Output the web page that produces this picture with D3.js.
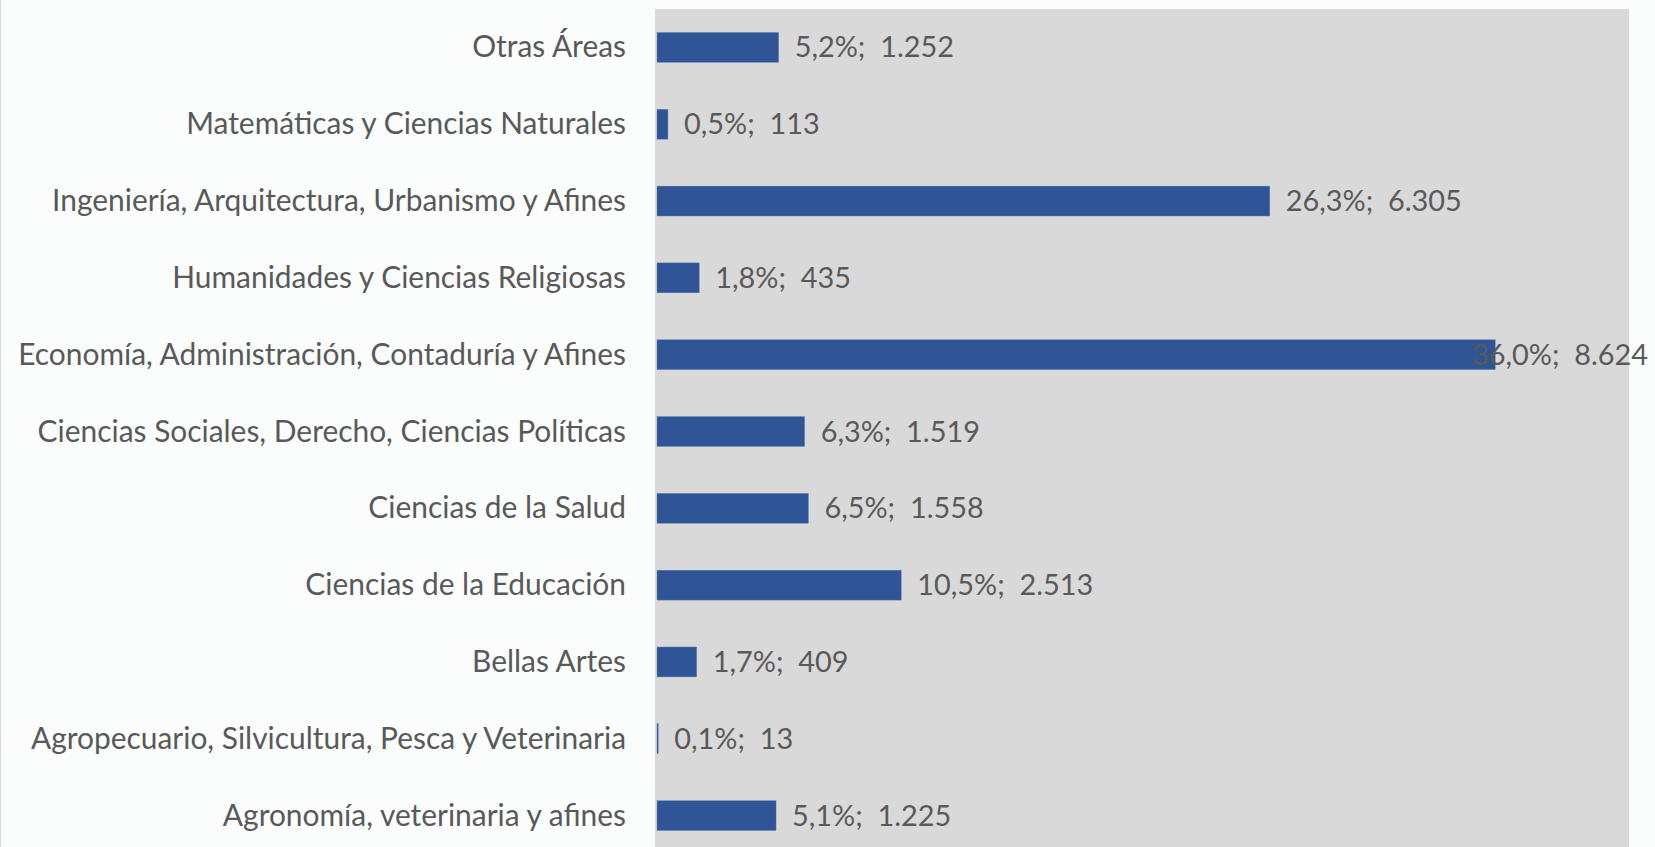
<!DOCTYPE html>
<html lang="es">
<head>
  <meta charset="UTF-8">
  <title>Áreas de conocimiento</title>
  <script src="https://d3js.org/d3.v7.min.js"></script>
  <style>
    html, body { margin: 0; padding: 0; background: #fbfdfd; overflow: hidden; }
    svg { display: block; }
    text { font-family: Lato, "Open Sans", sans-serif; fill: #595959; white-space: pre; }
  </style>
</head>
<body>
<div id="chart"></div>
<script>
  // Categories top to bottom
  const categories = [
    "Otras Áreas",
    "Matemáticas y Ciencias Naturales",
    "Ingeniería, Arquitectura, Urbanismo y Afines",
    "Humanidades y Ciencias Religiosas",
    "Economía, Administración, Contaduría y Afines",
    "Ciencias Sociales, Derecho, Ciencias Políticas",
    "Ciencias de la Salud",
    "Ciencias de la Educación",
    "Bellas Artes",
    "Agropecuario, Silvicultura, Pesca y Veterinaria",
    "Agronomía, veterinaria y afines"
  ];
  const counts = [1252, 113, 6305, 435, 8624, 1519, 1558, 2513, 409, 13, 1225];
  const percents = ["5,2%", "0,5%", "26,3%", "1,8%", "36,0%", "6,3%", "6,5%", "10,5%", "1,7%", "0,1%", "5,1%"];

  const width = 1655, height = 847;
  const plot = { left: 655, right: 1629, top: 9, bottom: 854 };

  const svg = d3.select("#chart").append("svg")
    .attr("width", width)
    .attr("height", height);

  // thin chart border on the left
  svg.append("line")
    .attr("x1", 0.5).attr("x2", 0.5).attr("y1", 0).attr("y2", height)
    .attr("stroke", "#d9d9d9");

  const x = d3.scaleLinear().domain([0, 10000]).range([plot.left + 2, plot.right]);
  const y = d3.scaleBand().domain(categories).range([plot.top, plot.bottom]).paddingInner(0.61).paddingOuter(0.305);

  // plot area
  svg.append("rect")
    .attr("x", plot.left).attr("y", plot.top)
    .attr("width", plot.right - plot.left).attr("height", plot.bottom - plot.top)
    .attr("fill", "#d9d9d9");

  // bars
  svg.append("g")
    .selectAll("rect")
    .data(categories)
    .join("rect")
    .attr("x", x(0))
    .attr("y", d => y(d))
    .attr("width", (d, i) => x(counts[i]) - x(0))
    .attr("height", y.bandwidth())
    .attr("fill", "#2f5597")
    .attr("stroke", "#6d8bbd")
    .attr("stroke-width", 0.4);

  // category labels, font sized so the longest label spans like the original
  const labels = svg.append("g")
    .selectAll("text")
    .data(categories)
    .join("text")
    .attr("x", 626)
    .attr("y", d => y(d) + y.bandwidth() / 2 - 2)
    .attr("text-anchor", "end")
    .attr("dominant-baseline", "central")
    .style("font-size", "30px")
    .text(d => d);

  const longest = d3.max(labels.nodes(), n => n.getComputedTextLength());
  const fontSize = 30 * 608 / longest;
  labels.style("font-size", fontSize + "px");

  // value labels
  const fmt = d3.format(",");
  const values = svg.append("g")
    .selectAll("text")
    .data(categories)
    .join("text")
    .attr("y", d => y(d) + y.bandwidth() / 2 - 1)
    .attr("dominant-baseline", "central")
    .style("font-size", (fontSize * 0.965) + "px")
    .text((d, i) => percents[i] + ";  " + fmt(counts[i]).replace(/,/g, "."));

  values.attr("x", function (d, i) {
    const w = this.getComputedTextLength();
    return Math.min(x(counts[i]) + 16, 1648 - w);
  });
</script>
</body>
</html>
